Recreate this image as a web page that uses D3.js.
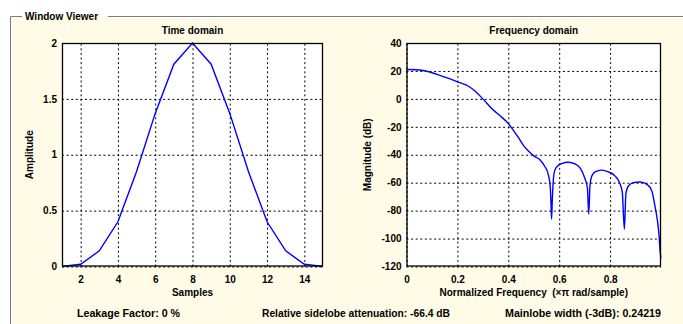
<!DOCTYPE html>
<html><head><meta charset="utf-8">
<script src="https://cdn.jsdelivr.net/npm/d3@7"></script>
<style>
body{margin:0;background:#fff;}
svg{display:block;font-family:"Liberation Sans",Arial,sans-serif;}
.tk{font-size:10px;font-weight:bold;fill:#000;}
text{white-space:pre;}
</style></head>
<body><svg id="c" width="683" height="324"></svg>
<script>
// Time domain samples
const samples = [1,2,3,4,5,6,7,8,9,10,11,12,13,14,15];
const amplitude = [0.0,0.02,0.14,0.40,0.85,1.37,1.81,2.0,1.81,1.37,0.85,0.40,0.14,0.02,0.0];
const timeXTicks = [2,4,6,8,10,12,14];
const timeYTicks = [0,0.5,1,1.5,2];
// Frequency domain
const freq = [0.00,0.04,0.08,0.12,0.16,0.20,0.247,0.27,0.30,0.34,0.37,0.40,0.42,0.44,0.46,0.48,0.50,0.524,0.543,0.557,0.565,0.568,0.570,0.573,0.577,0.583,0.595,0.610,0.636,0.662,0.682,0.700,0.711,0.716,0.721,0.728,0.741,0.767,0.793,0.820,0.837,0.848,0.856,0.862,0.872,0.892,0.918,0.945,0.964,0.975,0.985,0.992,0.997,1.0];
const magDb = [21.0,20.8,19.8,17.6,15.0,12.2,8.7,5.5,0.0,-7.8,-12.5,-17.6,-22.5,-27.8,-33.5,-37.5,-40.8,-43.5,-48.2,-54,-63.5,-76,-86,-72,-58,-51,-47.8,-46.3,-45.4,-46.6,-49.4,-56.5,-64,-82.6,-62,-55.3,-52.2,-51,-52.2,-55.3,-60,-67,-93.3,-68,-62.4,-60,-59.5,-61.2,-65.9,-75.5,-86,-97,-110,-114];
const freqXTicks = [0,0.2,0.4,0.6,0.8];
const freqYTicks = [-120,-100,-80,-60,-40,-20,0,20,40];

const svg = d3.select("#c");
// panel
svg.append("rect").attr("x",10).attr("y",16).attr("width",673).attr("height",308).attr("fill","#fffbe6");
svg.append("path").attr("d","M10.5,324V16.5H22 M108,16.5H683").attr("fill","none").attr("stroke","#7a7a7a").attr("stroke-width",1);
svg.append("path").attr("d","M11.5,324V17.5H22 M108,17.5H683").attr("fill","none").attr("stroke","#fff").attr("stroke-width",1);
svg.append("text").attr("x",25).attr("y",20).attr("font-size",10).attr("font-weight","bold").text("Window Viewer");

function panel(o){
  const g = svg.append("g");
  const x = d3.scaleLinear().domain(o.xd).range([o.l,o.r]);
  const y = d3.scaleLinear().domain(o.yd).range([o.b,o.t]);
  g.append("rect").attr("x",o.l).attr("y",o.t).attr("width",o.r-o.l).attr("height",o.b-o.t).attr("fill","#fff");
  // grid
  const gx = g.append("g").attr("transform",`translate(0,${o.b})`)
    .call(d3.axisBottom(x).tickValues(o.xt).tickSize(-(o.b-o.t)).tickFormat(""));
  gx.select(".domain").remove();
  gx.selectAll("line").attr("stroke","#000").attr("stroke-dasharray","2,2.6");
  const gy = g.append("g").attr("transform",`translate(${o.l},0)`)
    .call(d3.axisLeft(y).tickValues(o.yt).tickSize(-(o.r-o.l)).tickFormat(""));
  gy.select(".domain").remove();
  gy.selectAll("line").attr("stroke","#000").attr("stroke-dasharray","2,2.6");
  // labels
  const lx = g.append("g").attr("transform",`translate(0,${o.b})`)
    .call(d3.axisBottom(x).tickValues(o.xt).tickSize(0).tickPadding(9).tickFormat(o.xf));
  lx.select(".domain").remove();
  lx.selectAll("text").attr("class","tk").attr("font-family",null).attr("font-size",null);
  const ly = g.append("g").attr("transform",`translate(${o.l},0)`)
    .call(d3.axisLeft(y).tickValues(o.yt).tickSize(0).tickPadding(5).tickFormat(o.yf));
  ly.select(".domain").remove();
  ly.selectAll("text").attr("class","tk").attr("font-family",null).attr("font-size",null);
  // line
  g.append("path").datum(o.data).attr("fill","none").attr("stroke","#0000ff").attr("stroke-width",1.4)
    .attr("d",d3.line().curve(o.curve).x(d=>x(d[0])).y(d=>y(d[1])));
  g.append("rect").attr("x",o.l+0.5).attr("y",o.t+0.5).attr("width",o.r-o.l-1).attr("height",o.b-o.t-1)
    .attr("fill","none").attr("stroke","#000").attr("stroke-width",1.3);
  // titles
  const cx=(o.l+o.r)/2;
  g.append("text").attr("x",cx).attr("y",34).attr("text-anchor","middle").attr("font-size",10).attr("font-weight","bold").text(o.title);
  g.append("text").attr("x",cx).attr("y",296).attr("text-anchor","middle").attr("font-size",10).attr("font-weight","bold").text(o.xl);
  g.append("text").attr("transform",`translate(${o.ylx},${(o.t+o.b)/2}) rotate(-90)`).attr("text-anchor","middle").attr("font-size",10).attr("font-weight","bold").text(o.yl);
}

panel({l:62,r:323,t:43,b:266.5,xd:[1,15],yd:[0,2],xt:timeXTicks,yt:timeYTicks,
  xf:d3.format("d"),yf:d=>String(d),data:samples.map((s,i)=>[s,amplitude[i]]),curve:d3.curveLinear,
  title:"Time domain",xl:"Samples",yl:"Amplitude",ylx:33});
panel({l:406.5,r:661,t:43,b:266.5,xd:[0,1],yd:[-120,40],xt:freqXTicks,yt:freqYTicks,
  xf:d=>String(d),yf:d=>String(d),data:freq.map((f,i)=>[f,magDb[i]]),curve:d3.curveMonotoneX,
  title:"Frequency domain",xl:"Normalized Frequency  (\u00d7\u03c0 rad/sample)",yl:"Magnitude (dB)",ylx:371});

const foot = [["Leakage Factor: 0 %",77,103],["Relative sidelobe attenuation: -66.4 dB",262,188],["Mainlobe width (-3dB): 0.24219",505,156]];
foot.forEach(f=>svg.append("text").attr("x",f[1]).attr("y",317).attr("font-size",10).attr("font-weight","bold")
  .attr("textLength",f[2]).attr("lengthAdjust","spacingAndGlyphs").text(f[0]));
</script></body></html>
